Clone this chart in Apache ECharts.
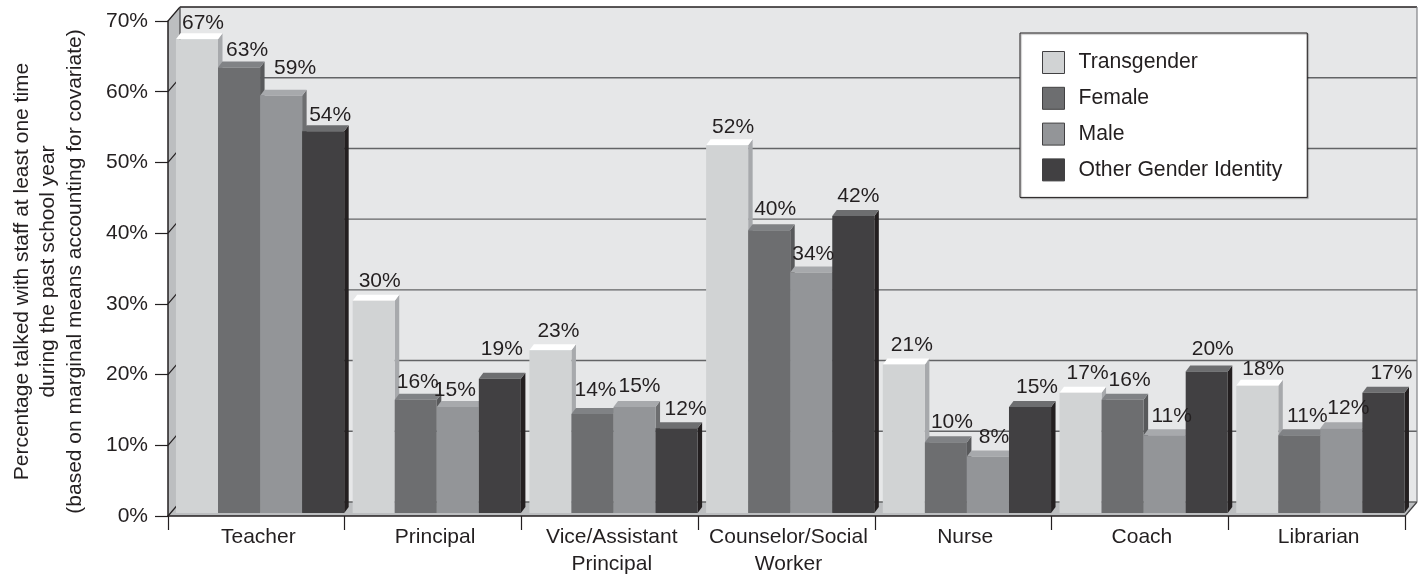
<!DOCTYPE html>
<html>
<head>
    <meta charset="UTF-8">
    <title>Staff talked with, by gender identity</title>
    <script src="https://cdn.jsdelivr.net/npm/echarts/dist/echarts.min.js"></script>
    <style>
        body { margin: 0; background: #fff; }
        #main { width: 1425px; height: 576px; }
    </style>
</head>
<body>
    <div id="main"></div>
    <script>
        var categories = ['Teacher', 'Principal', 'Vice/Assistant\nPrincipal', 'Counselor/Social\nWorker', 'Nurse', 'Coach', 'Librarian'];
        var transgender = [67, 30, 23, 52, 21, 17, 18];
        var female = [63, 16, 14, 40, 10, 16, 11];
        var male = [59, 15, 15, 34, 8, 11, 12];
        var otherGender = [54, 19, 12, 42, 15, 20, 17];

        var FONT = '"Liberation Sans", Arial, sans-serif';
        var TEXT = '#231f20';
        var WALL_DX = 12, WALL_DY = 14;   // depth of the chart box
        var BAR_DX = 4.5, BAR_DY = 6;     // depth of one bar
        var BAR_LIFT = 3;                 // bars stand a little behind the front edge

        // hand placed value labels in the original, [dx, dy] from the bar's top centre
        var labelShift = [
            [[6, -16], [6, -20], [8, -19], [6, -18], [8, -19], [7, -20], [6, -17]],
            [[8, -17], [2, -18], [3, -24], [6, -21], [6, -20], [7, -20], [8, -19]],
            [[14, -28], [-3, -17], [5, -21], [2, -18], [6, -19], [7, -19], [7, -20]],
            [[7, -16], [2, -29], [9, -19], [5, -20], [7, -20], [6, -22], [8, -20]]
        ];

        function poly(points, fill) {
            return { type: 'polygon', shape: { points: points }, style: { fill: fill }, silent: true };
        }
        function line(x1, y1, x2, y2, color, width) {
            return {
                type: 'line',
                shape: { x1: x1, y1: y1, x2: x2, y2: y2 },
                style: { stroke: color, lineWidth: width || 1 },
                silent: true
            };
        }

        function renderWalls(params, api) {
            var cs = params.coordSys;
            var left = cs.x, right = cs.x + cs.width;
            var y0 = api.coord([0, 0])[1];
            var yTop = api.coord([0, 70])[1];
            var kids = [
                poly([[left + WALL_DX, yTop - WALL_DY], [right + WALL_DX, yTop - WALL_DY], [right + WALL_DX, y0 - WALL_DY], [left + WALL_DX, y0 - WALL_DY]], '#e6e7e8'),
                poly([[left, yTop], [left + WALL_DX, yTop - WALL_DY], [left + WALL_DX, y0 - WALL_DY], [left, y0]], '#bcbec0'),
                poly([[left, y0], [left + WALL_DX, y0 - WALL_DY], [right + WALL_DX, y0 - WALL_DY], [right, y0]], '#bcbec0')
            ];
            for (var v = 0; v <= 70; v += 10) {
                var y = api.coord([0, v])[1];
                kids.push(line(left, y, left + WALL_DX, y - WALL_DY, '#231f20', 1.2));
                kids.push(line(left + WALL_DX, y - WALL_DY, right + WALL_DX, y - WALL_DY, v === 70 ? '#231f20' : '#636466', v === 70 ? 1.5 : 1.4));
            }
            kids.push(line(left + WALL_DX, yTop - WALL_DY, left + WALL_DX, y0 - WALL_DY, '#414042', 1.2));
            kids.push(line(right + WALL_DX, yTop - WALL_DY, right + WALL_DX, y0 - WALL_DY, '#808285', 1.2));
            kids.push(line(right, y0, right + WALL_DX, y0 - WALL_DY, '#414042', 1.2));
            return { type: 'group', children: kids };
        }

        function barRenderer(seriesIndex, colors) {
            return function (params, api) {
                var cat = api.value(0), val = api.value(1);
                var band = api.size([1, 0])[0];
                var barW = band * 0.238;
                var x0 = api.coord([cat, 0])[0] - band / 2 + band * 0.045 + seriesIndex * barW;
                var x1 = x0 + barW;
                var base = api.coord([cat, 0])[1] - BAR_LIFT;
                var top = api.coord([cat, val])[1] - BAR_LIFT;
                var shift = labelShift[seriesIndex][cat];
                return {
                    type: 'group',
                    children: [
                        poly([[x1, top], [x1 + BAR_DX, top - BAR_DY], [x1 + BAR_DX, base - BAR_DY], [x1, base]], colors.side),
                        poly([[x0, top], [x0 + BAR_DX, top - BAR_DY], [x1 + BAR_DX, top - BAR_DY], [x1, top]], colors.top),
                        poly([[x0, top], [x1, top], [x1, base], [x0, base]], colors.front),
                        {
                            type: 'text',
                            z2: 100,
                            silent: true,
                            style: {
                                text: val + '%',
                                x: (x0 + x1) / 2 + shift[0],
                                y: top + shift[1],
                                fill: TEXT,
                                font: '21px ' + FONT,
                                align: 'center',
                                verticalAlign: 'middle'
                            }
                        }
                    ]
                };
            };
        }

        function barSeries(name, values, seriesIndex, colors) {
            return {
                name: name,
                type: 'custom',
                z: 2,
                itemStyle: { color: colors.front },
                renderItem: barRenderer(seriesIndex, colors),
                data: values.map(function (v, i) { return [i, v]; })
            };
        }

        var myChart = echarts.init(document.getElementById('main'));
        myChart.setOption({
            animation: false,
            backgroundColor: '#fff',
            textStyle: { fontFamily: FONT, color: TEXT },
            grid: { left: 168, right: 20, top: 21, bottom: 60, outerBoundsMode: 'none' },
            legend: {
                data: ['Transgender', 'Female', 'Male', 'Other Gender Identity'],
                orient: 'vertical',
                left: 1020,
                top: 33,
                padding: [18, 25, 16, 22],
                itemWidth: 22,
                itemHeight: 22,
                itemGap: 12.8,
                icon: 'rect',
                selectedMode: false,
                backgroundColor: '#fff',
                borderColor: '#231f20',
                borderWidth: 1,
                shadowColor: 'rgba(0,0,0,0.35)',
                shadowOffsetX: 1,
                shadowOffsetY: 1,
                shadowBlur: 1,
                itemStyle: { borderColor: '#414042', borderWidth: 1 },
                textStyle: { fontFamily: FONT, fontSize: 21.2, color: TEXT, padding: [0, 0, 0, 9] }
            },
            xAxis: {
                type: 'category',
                data: categories,
                z: 3,
                axisLine: { lineStyle: { color: '#231f20', width: 1.5 } },
                axisTick: { show: true, length: 14, lineStyle: { color: '#231f20', width: 1.2 } },
                axisLabel: { color: TEXT, fontFamily: FONT, fontSize: 21, lineHeight: 27, margin: 8, interval: 0, padding: [0, 0, 0, 4] }
            },
            yAxis: {
                type: 'value',
                min: 0,
                max: 70,
                interval: 10,
                z: 3,
                name: 'Percentage talked with staff at least one time\nduring the past school year\n(based on marginal means accounting for covariate)',
                nameLocation: 'middle',
                nameRotate: 90,
                nameGap: 80,
                nameTextStyle: { color: TEXT, fontFamily: FONT, fontSize: 21, lineHeight: 26.5, padding: [0, 6, 0, 0] },
                axisLine: { show: true, lineStyle: { color: '#231f20', width: 1.5 } },
                axisTick: { show: true, length: 13, lineStyle: { color: '#231f20', width: 1.2 } },
                axisLabel: { color: TEXT, fontFamily: FONT, fontSize: 21, margin: 20, formatter: '{value}%' },
                splitLine: { show: false }
            },
            series: [
                { type: 'custom', z: 1, silent: true, renderItem: renderWalls, data: [[0, 0]] },
                barSeries('Transgender', transgender, 0, { front: '#d1d3d4', top: '#ffffff', side: '#a7a9ac' }),
                barSeries('Female', female, 1, { front: '#6d6e70', top: '#808285', side: '#58595b' }),
                barSeries('Male', male, 2, { front: '#939598', top: '#a7a9ac', side: '#6d6e70' }),
                barSeries('Other Gender Identity', otherGender, 3, { front: '#414042', top: '#6d6e70', side: '#231f20' })
            ]
        });
    </script>
</body>
</html>
